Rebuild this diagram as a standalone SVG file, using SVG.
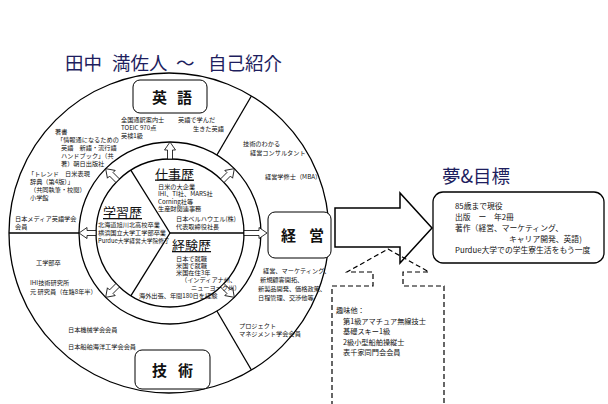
<svg xmlns="http://www.w3.org/2000/svg" width="608" height="404" viewBox="0 0 608 404">
<defs>
<style>
.t{font-family:"Noto Sans CJK JP","Liberation Sans",sans-serif;font-size:6.2px;fill:#111}
.g{font-family:"Noto Sans CJK JP","Liberation Sans",sans-serif;font-size:7.8px;fill:#111}
.s{font-family:"Noto Sans CJK JP","Liberation Sans",sans-serif;font-size:7.2px;fill:#111}
.h{font-family:"Noto Sans CJK JP",sans-serif;font-size:13px;fill:#111;text-decoration:underline}
.b{font-family:"Noto Sans CJK JP",sans-serif;font-size:15px;font-weight:bold;fill:#111}
.ti{font-family:"Noto Sans CJK JP",sans-serif;font-size:18.5px;fill:#1e1e5e}
.ln{fill:none;stroke:#000;stroke-width:1.3}
.box{fill:#fff;stroke:#000;stroke-width:1}
.ha{fill:#fff;stroke:#000;stroke-width:0.8}
.dash{fill:none;stroke:#000;stroke-width:1.2;stroke-dasharray:5,3}
</style>
<path id="sa" d="M0,-2.5H9V-5.5L17,0L9,5.5V2.5H0Z"/>
</defs>
<rect width="608" height="404" fill="#fff"/>
<text class="ti" y="69.5"><tspan x="65">田中</tspan><tspan x="112">満佐人</tspan><tspan x="176">～</tspan><tspan x="208">自己紹介</tspan></text>
<g id="connectors">
<circle class="ln" cx="169" cy="233" r="160" stroke-width="1.5"/>
<circle class="ln" cx="170" cy="233" r="91"/>
<circle class="ln" cx="170" cy="233" r="74"/>
<line class="ln" x1="216.9" y1="155" x2="251.4" y2="96"/>
<line class="ln" x1="216.9" y1="311" x2="251.4" y2="370"/>
<line class="ln" x1="79" y1="233" x2="9" y2="233" stroke-width="2.5"/>
<line class="ln" x1="170" y1="233" x2="130.8" y2="170.2" stroke-width="1"/>
<line class="ln" x1="170" y1="233" x2="130.8" y2="295.8" stroke-width="1"/>
<line class="ln" x1="170" y1="233" x2="244" y2="233" stroke-width="2.5"/>
<use href="#sa" class="ha" transform="translate(170,233) rotate(-90) translate(74,0)"/>
<use href="#sa" class="ha" transform="translate(170,233) rotate(-135) translate(74,0)"/>
<use href="#sa" class="ha" transform="translate(170,233) rotate(-45) translate(74,0)"/>
<use href="#sa" class="ha" transform="translate(170,233) rotate(180) translate(74,0)"/>
<use href="#sa" class="ha" transform="translate(170,233) rotate(135) translate(74,0)"/>
<use href="#sa" class="ha" transform="translate(170,233) rotate(45) translate(74,0)"/>
<path class="ha" d="M244,230.5H259V227.5L267,233L259,238.5V235.5H244Z"/>
<path fill="#fff" stroke="#000" stroke-width="1.5" d="M335,208H400V193L432,228L400,263V247H335Z"/>
</g>
<g id="eigo">
<rect class="box" x="133" y="80" width="74" height="33" rx="7"/>
<text class="b" x="152" y="103">英</text><text class="b" x="177" y="103">語</text>
</g>
<g id="keiei">
<rect class="box" x="268" y="212" width="63" height="46" rx="7"/>
<text class="b" x="281" y="241">経</text><text class="b" x="309" y="241">営</text>
</g>
<g id="gijutsu">
<rect class="box" x="135" y="350" width="75" height="39" rx="7"/>
<text class="b" x="152" y="376">技</text><text class="b" x="178" y="376">術</text>
</g>
<g id="eigo-text">
<text class="t" y="122"><tspan x="121">全国通訳案内士</tspan><tspan x="121" dy="8">TOEIC 970点</tspan><tspan x="121" dy="8">英検1級</tspan></text>
<text class="t" y="122"><tspan x="178">英語で学んだ</tspan><tspan x="193" dy="9">生きた英語</tspan></text>
<text class="t" y="134"><tspan x="55">著書</tspan><tspan x="57" dy="8">「情報通になるための</tspan><tspan x="61" dy="8">英語　新語・流行語</tspan><tspan x="61" dy="8">ハンドブック」（共</tspan><tspan x="61" dy="8">著）朝日出版社</tspan></text>
<text class="t" y="176"><tspan x="28">「トレンド　日米表現</tspan><tspan x="30" dy="8">辞典（第4版）」</tspan><tspan x="30" dy="8">（共同執筆・校閲）</tspan><tspan x="30" dy="8">小学館</tspan></text>
<text class="t" y="221"><tspan x="15">日本メディア英語学会</tspan><tspan x="15" dy="8">会員</tspan></text>
</g>
<g id="keiei-text">
<text class="t" y="146"><tspan x="243">技術のわかる</tspan><tspan x="250" dy="9">経営コンサルタント</tspan></text>
<text class="t" x="265" y="179">経営学修士（MBA）</text>
<text class="t" y="273"><tspan x="263">経営、マーケティング、</tspan><tspan x="260" dy="9">新規顧客開拓、</tspan><tspan x="258" dy="9">新製品開発、価格政策、</tspan><tspan x="258" dy="9">日程管理、交渉他等</tspan></text>
<text class="t" y="328"><tspan x="239">プロジェクト</tspan><tspan x="239" dy="8">マネジメント学会会員</tspan></text>
</g>
<g id="gijutsu-text">
<text class="t" x="36" y="265">工学部卒</text>
<text class="t" y="285"><tspan x="30">IHI技術研究所</tspan><tspan x="30" dy="9">元 研究員（在籍8年半）</tspan></text>
<text class="t" x="68" y="332">日本機械学会会員</text>
<text class="t" x="68" y="349">日本船舶海洋工学会会員</text>
</g>
<g id="shigoto">
<text class="h" x="155" y="178.5">仕事歴</text>
<text class="t" y="189"><tspan x="158">日米の大企業</tspan><tspan x="158" dy="7.3">IHI、TI社、MARS社</tspan><tspan x="158" dy="7.3">Corning社等</tspan><tspan x="158" dy="7.4">生産財関連事務</tspan></text>
<text class="t" y="220.5"><tspan x="176">日本ベルハウエル(株)</tspan><tspan x="176" dy="8">代表取締役社長</tspan></text>
</g>
<g id="gakushu">
<text class="h" x="103" y="217">学習歴</text>
<text class="t" y="227"><tspan x="98">北海道旭川北高校卒業</tspan><tspan x="98" dy="8">横浜国立大学工学部卒業</tspan><tspan x="98" dy="8" font-size="5.8">Purdue大学経営大学院修了</tspan></text>
</g>
<g id="keiken">
<text class="h" x="172" y="250">経験歴</text>
<text class="t" y="260.5"><tspan x="176">日本で就職</tspan><tspan x="176" dy="7.3">米国で就職</tspan><tspan x="176" dy="7.3">米国在住3年</tspan><tspan x="181" dy="7.3">（インディアナ州、</tspan><tspan x="191" dy="7.3">ニューヨーク州）</tspan></text>
<text class="t" x="139" y="297.5">海外出張、年間180日を経験</text>
</g>
<g id="yume">
<text class="ti" x="442" y="183">夢&amp;目標</text>
<rect fill="#fff" stroke="#000" stroke-width="1.3" x="433" y="192" width="171" height="71" rx="10"/>
<text class="g" y="209"><tspan x="455">85歳まで現役</tspan><tspan x="455" dy="11">出版　ー　年2冊</tspan><tspan x="455" dy="11">著作（経営、マーケティング、</tspan><tspan x="509" dy="11">キャリア開発、英語)</tspan><tspan x="455" dy="11">Purdue大学での学生寮生活をもう一度</tspan></text>
</g>
<g id="shumi">
<path class="dash" d="M332,406V286H373V272H347L388,249L429,272H403V286H444V406"/>
<text class="s" y="313"><tspan x="336">趣味他：</tspan><tspan x="343" dy="10.5">第1級アマチュア無線技士</tspan><tspan x="343" dy="10.5">基礎スキー1級</tspan><tspan x="343" dy="10.5">2級小型船舶操縦士</tspan><tspan x="343" dy="10.5">表千家同門会会員</tspan></text>
</g>
</svg>
